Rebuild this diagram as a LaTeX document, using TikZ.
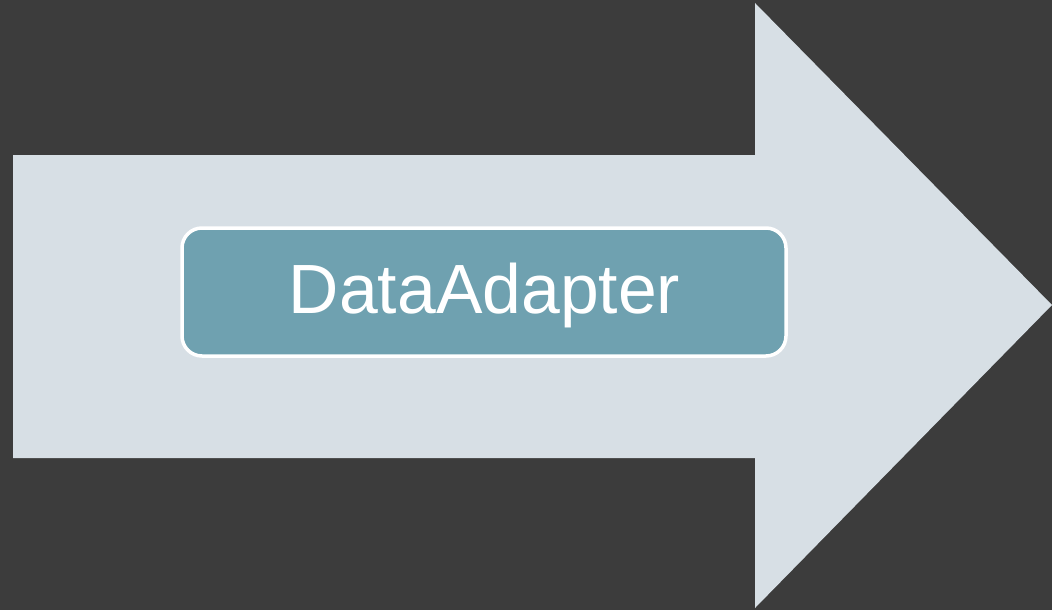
\documentclass[tikz,border=0pt]{standalone}
\usepackage{fontspec}
\setmainfont{Liberation Sans}
\definecolor{bgc}{HTML}{3C3C3C}
\definecolor{arrowc}{HTML}{D7DFE5}
\definecolor{boxc}{HTML}{6FA1B0}
\tikzset{
  bigarrow/.style={fill=arrowc, draw=none},
  labelbox/.style={fill=boxc, draw=white, line width=3.5pt, rounded corners=20pt},
  labeltext/.style={text=white, font=\fontsize{69.7}{80}\selectfont, inner sep=0pt, anchor=base}
}
\begin{document}
\begin{tikzpicture}[x=1pt,y=-1pt]
\fill[bgc] (0,0) rectangle (1052,610);
\useasboundingbox (0,0) rectangle (1052,610);
\fill[bigarrow] (13,155) -- (755,155) -- (755,3) -- (1052,305) -- (755,608) -- (755,458) -- (13,458) -- cycle;
\draw[labelbox] (182,228) rectangle (786,356);
\node[labeltext] (lbl) at (484.5,313) {DataAdapter};
\end{tikzpicture}
\end{document}
